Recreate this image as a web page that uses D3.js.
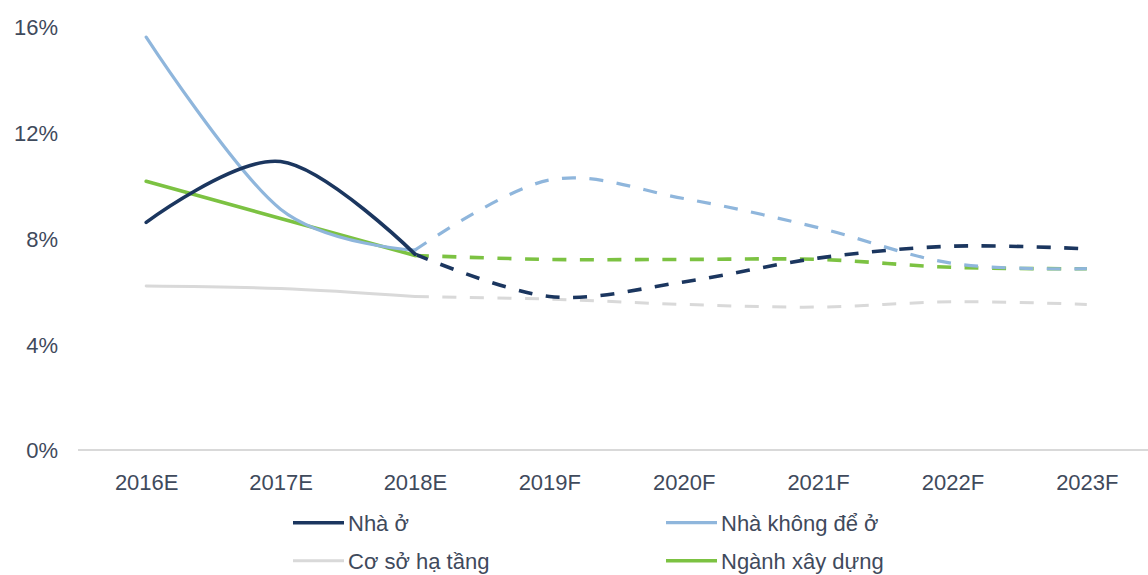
<!DOCTYPE html>
<html>
<head>
<meta charset="utf-8">
<script src="https://cdn.jsdelivr.net/npm/d3@7"></script>
<style>
  html, body { margin: 0; padding: 0; background: #ffffff; }
  svg { display: block; }
  text { font-family: "Liberation Sans", Arial, sans-serif; fill: #3f4a5c; }
</style>
</head>
<body>
<svg id="chart" width="1148" height="575"></svg>
<script>
// Growth rates by segment (%), estimates for 2016-2018 and forecasts for 2019-2023
const years = ["2016E", "2017E", "2018E", "2019F", "2020F", "2021F", "2022F", "2023F"];
const nhaO = [8.6, 10.9, 7.4, 5.8, 6.35, 7.25, 7.7, 7.6];
const nhaKhongDeO = [15.6, 9.1, 7.55, 10.2, 9.5, 8.4, 7.05, 6.85];
const coSoHaTang = [6.2, 6.1, 5.8, 5.7, 5.5, 5.4, 5.6, 5.5];
const nganhXayDung = [10.15, 8.75, 7.35, 7.2, 7.2, 7.2, 6.9, 6.85];
const yTicks = [0, 4, 8, 12, 16];
const lastEstimate = 2; // index of the last estimated year; forecasts follow

const series = [
  { name: "Nhà ở", values: nhaO, color: "#1b365f", width: 3.6 },
  { name: "Nhà không để ở", values: nhaKhongDeO, color: "#8fb6dc", width: 3.2 },
  { name: "Cơ sở hạ tầng", values: coSoHaTang, color: "#d9d9d9", width: 3.0 },
  { name: "Ngành xây dựng", values: nganhXayDung, color: "#7cc242", width: 3.6 }
];

const svg = d3.select("#chart");

const x = d3.scalePoint().domain(years).range([79, 1154]).padding(0.5);
const y = d3.scaleLinear().domain([0, 16]).range([450, 26.5]);

// baseline
svg.append("line")
  .attr("x1", 78).attr("x2", 1148)
  .attr("y1", y(0)).attr("y2", y(0))
  .attr("stroke", "#d9d9d9").attr("stroke-width", 2);

// y axis labels
const yAxis = svg.append("g")
  .attr("transform", "translate(58,0)")
  .call(d3.axisLeft(y).tickValues(yTicks).tickFormat(d => d + "%").tickSize(0).tickPadding(0));
yAxis.select(".domain").remove();
yAxis.selectAll("text")
  .attr("font-size", 22).style("font-family", '"Liberation Sans", Arial, sans-serif')
  .attr("fill", "#3f4a5c").attr("dy", "0.36em");

// x axis labels
const xAxis = svg.append("g")
  .attr("transform", "translate(0,450)")
  .call(d3.axisBottom(x).tickSize(0).tickPadding(0));
xAxis.select(".domain").remove();
xAxis.selectAll("text")
  .attr("font-size", 22).style("font-family", '"Liberation Sans", Arial, sans-serif')
  .attr("fill", "#3f4a5c").attr("y", 40).attr("dy", 0);

const line = d3.line()
  .x(d => x(d.year))
  .y(d => y(d.value))
  .curve(d3.curveCardinal.tension(0));

const order = [2, 3, 1, 0];

// forecast segments (dashed)
order.forEach(i => {
  const s = series[i];
  const pts = years.map((yr, k) => ({ year: yr, value: s.values[k] })).slice(lastEstimate);
  svg.append("path")
    .datum(pts)
    .attr("d", line)
    .attr("fill", "none")
    .attr("stroke", s.color)
    .attr("stroke-width", s.width)
    .attr("stroke-dasharray", "14,13.5")
    .attr("stroke-linecap", "butt");
});

// estimate segments (solid)
order.forEach(i => {
  const s = series[i];
  const pts = years.map((yr, k) => ({ year: yr, value: s.values[k] })).slice(0, lastEstimate + 1);
  svg.append("path")
    .datum(pts)
    .attr("d", line)
    .attr("fill", "none")
    .attr("stroke", s.color)
    .attr("stroke-width", s.width)
    .attr("stroke-linecap", "round")
    .attr("stroke-linejoin", "round");
});

// legend
const legendPos = [
  { lx: 293, ly: 522.7 },
  { lx: 666, ly: 522.7 },
  { lx: 293, ly: 560.7 },
  { lx: 666, ly: 560.7 }
];
series.forEach((s, i) => {
  const p = legendPos[i];
  const g = svg.append("g");
  g.append("line")
    .attr("x1", p.lx).attr("x2", p.lx + 51)
    .attr("y1", p.ly).attr("y2", p.ly)
    .attr("stroke", s.color).attr("stroke-width", s.width);
  g.append("text")
    .attr("x", p.lx + 55).attr("y", p.ly + 8.5)
    .attr("font-size", 22)
    .text(s.name);
});
</script>
</body>
</html>
